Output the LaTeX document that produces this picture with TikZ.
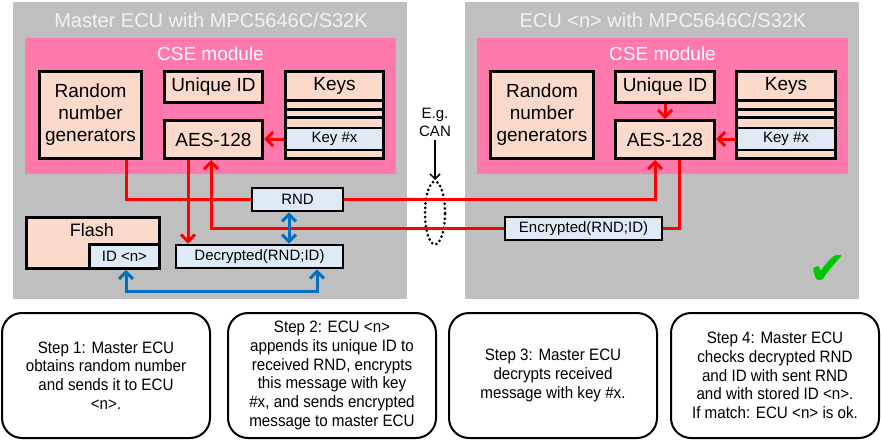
\documentclass[tikz,border=0pt]{standalone}
\usepackage{fontspec}
\setmainfont{Liberation Sans}
\newfontfamily\stepfont[FakeStretch=0.92]{Liberation Sans}
\newfontfamily\symfont{DejaVu Sans}
\usetikzlibrary{positioning,arrows.meta,shapes.geometric}
\definecolor{panelgray}{RGB}{191,191,191}
\definecolor{csepink}{RGB}{255,121,172}
\definecolor{unitpeach}{RGB}{251,218,204}
\definecolor{datablue}{RGB}{222,235,247}
\definecolor{linkred}{RGB}{255,0,0}
\definecolor{linkblue}{RGB}{0,112,192}
\definecolor{okgreen}{RGB}{0,200,0}
\definecolor{titlewhite}{RGB}{242,242,242}
\tikzset{
    panel/.style = {fill=panelgray, inner sep=0pt, minimum width=394, minimum height=297},
    panel-title/.style = {text=titlewhite, font=\fontsize{20}{24}\selectfont},
    cse-box/.style = {fill=csepink, inner sep=0pt, minimum width=371, minimum height=136},
    cse-title/.style = {text=white, font=\fontsize{19}{22}\selectfont},
    unit-box/.style = {draw, fill=unitpeach, line width=3pt, inner sep=0pt, align=center, font=\fontsize{19}{22}\selectfont},
    unit-title/.style = {font=\fontsize{19}{22}\selectfont},
    data-box/.style = {draw, fill=datablue, line width=2.7pt, inner sep=0pt, minimum height=23, font=\fontsize{15}{18}\selectfont},
    red-line/.style = {draw=linkred, line width=3pt},
    red-link/.style = {red-line, -{Straight Barb[length=7pt,width=14pt]}},
    blue-link/.style = {draw=linkblue, line width=3pt, {Straight Barb[length=7pt,width=14pt]}-{Straight Barb[length=7pt,width=14pt]}},
    bus-ring/.style = {draw, ellipse, inner sep=0pt, minimum width=20, minimum height=63, line width=3pt, dash pattern=on 0pt off 4.6pt, line cap=round},
    step-box/.style = {draw, line width=2pt, rounded corners=20pt, minimum width=208, minimum height=125, align=center, font=\stepfont\fontsize{16.5}{18.8}\selectfont},
}
\begin{document}
\begin{tikzpicture}[x=1pt, y=-1pt]
\useasboundingbox (0,0) rectangle (881,444);

% master ECU
\node[panel] (mpanel) at (210,150.5) {};
\node[panel-title] (mtitle) at (211,20) {Master ECU with MPC5646C/S32K};
\node[cse-box] (mcse) at (210.5,106) {};
\node[cse-title] (mcsetitle) at (210.5,54) {CSE module};
\node[unit-box, minimum width=102, minimum height=87] (mrng) at (90.5,115) {Random\\number\\generators};
\node[unit-box, minimum width=98, minimum height=31] (muid) at (213.5,87) {Unique ID};
\node[unit-box, minimum width=98, minimum height=38] (maes) at (213.5,139.5) {AES-128};
\node[unit-box, minimum width=98, minimum height=87] (mkeys) at (334.5,115) {};
\node[unit-title] (mkeystitle) at (334.5,86) {Keys};
\foreach \dy in {30.5,39.5,47.5}
    \draw[line width=2.7pt] ([yshift=-\dy pt]mkeys.north west) -- ([yshift=-\dy pt]mkeys.north east);
\node[data-box, minimum width=98, minimum height=22] (mkey) at (334.5,139) {Key \#x};
\node[unit-box, minimum width=133, minimum height=51] (mflash) at (92.5,242.5) {};
\node[font=\fontsize{18}{20}\selectfont] (mflashtitle) at (92,230) {Flash};
\node[data-box, minimum width=70, minimum height=24] (mid) at (124.5,256.5) {ID <n>};
\node[data-box, minimum width=91] (mrnd) at (297.5,199.5) {RND};
\node[data-box, minimum width=167] (mdec) at (259.5,256.5) {Decrypted(RND;ID)};

% ECU <n>
\node[panel] (spanel) at (662,150.5) {};
\node[panel-title] (stitle) at (663,20) {ECU <n> with MPC5646C/S32K};
\node[cse-box] (scse) at (662.5,106) {};
\node[cse-title] (scsetitle) at (662.5,54) {CSE module};
\node[unit-box, minimum width=103, minimum height=87] (srng) at (542,115) {Random\\number\\generators};
\node[unit-box, minimum width=99, minimum height=31] (suid) at (665,87) {Unique ID};
\node[unit-box, minimum width=99, minimum height=38] (saes) at (665,139.5) {AES-128};
\node[unit-box, minimum width=99, minimum height=87] (skeys) at (786,115) {};
\node[unit-title] (skeystitle) at (786,86) {Keys};
\foreach \dy in {30.5,39.5,47.5}
    \draw[line width=2.7pt] ([yshift=-\dy pt]skeys.north west) -- ([yshift=-\dy pt]skeys.north east);
\node[data-box, minimum width=99, minimum height=22] (skey) at (786,139) {Key \#x};
\node[data-box, minimum width=157] (senc) at (583.5,228.5) {Encrypted(RND;ID)};
\node[text=okgreen, font=\symfont\fontsize{46}{48}\selectfont] (okmark) at (828,270) {✔};

% bus
\node[align=center, font=\fontsize{15}{18}\selectfont] (can) at (435,122) {E.g.\\CAN};
\node[bus-ring] (bus) at (435,213) {};
\draw[line width=1.5pt, -{Straight Barb[length=5pt,width=10pt]}] (can) -- (bus);

% red links
\draw[red-line] ([xshift=35.5pt]mrng.south) |- (mrnd.west);
\draw[red-link] (mrnd.east) -| ([xshift=-10pt]saes.south);
\draw[red-line] ([xshift=14pt]saes.south) |- (senc.east);
\draw[red-link] (senc.west) -| ([xshift=-2.5pt]maes.south);
\coordinate (maesout) at ([xshift=-25.5pt]maes.south);
\draw[red-link] (maesout) -- (maesout |- mdec.north);
\draw[red-link] (mkey.west) -- (mkey.west -| maes.east);
\draw[red-link] (suid) -- (saes);
\draw[red-link] (skey.west) -- (skey.west -| saes.east);

% blue links
\coordinate (mrndout) at ([xshift=-8.5pt]mrnd.south);
\draw[blue-link] (mrndout) -- (mrndout |- mdec.north);
\draw[blue-link] ([xshift=1.5pt]mid.south) -- ++(0,21.5) -| ([xshift=57.5pt]mdec.south);

% steps
\node[step-box] (step1) at (106,375.5) {Step 1: Master ECU\\obtains random number\\and sends it to ECU\\<n>.};
\node[step-box] (step2) at (332,375.5) {Step 2: ECU <n>\\appends its unique ID to\\received RND, encrypts\\this message with key\\\#x, and sends encrypted\\message to master ECU};
\node[step-box] (step3) at (553,375.5) {Step 3: Master ECU\\decrypts received\\message with key \#x.};
\node[step-box] (step4) at (775,375.5) {Step 4: Master ECU\\checks decrypted RND\\and ID with sent RND\\and with stored ID <n>.\\If match: ECU <n> is ok.};
\end{tikzpicture}
\end{document}
